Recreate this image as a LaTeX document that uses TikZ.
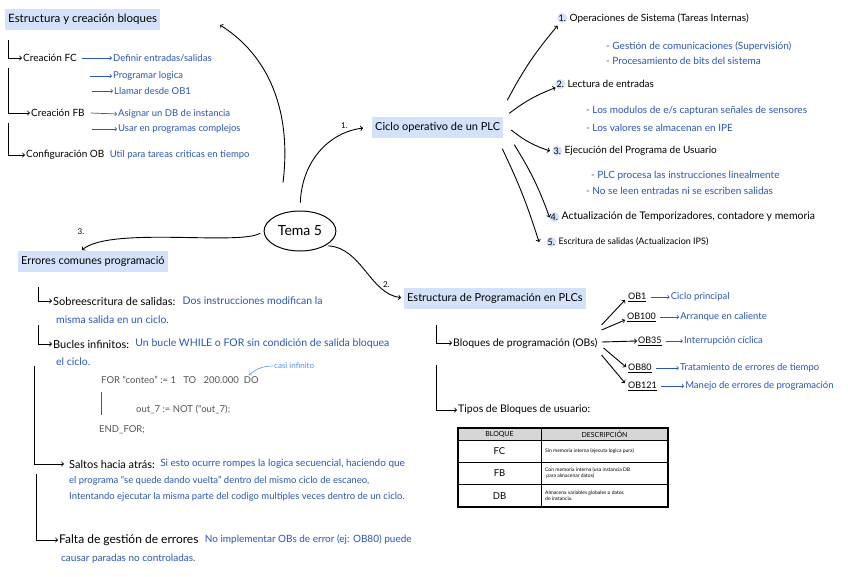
\documentclass[tikz,border=0pt]{standalone}
\usepackage{fontspec}
\setmainfont{Lato}
\usetikzlibrary{positioning,shapes.geometric}

\definecolor{penblue}{HTML}{2B55B5}
\definecolor{lightpen}{HTML}{5A8FE6}
\definecolor{hilite}{HTML}{D3E2FA}
\definecolor{codegray}{HTML}{555555}
\definecolor{headgray}{HTML}{D6D6D6}

\tikzset{
  heading/.style={fill=hilite, anchor=west, inner xsep=3pt, minimum height=21pt, font=\fontsize{11}{13}\selectfont},
  item/.style={anchor=west, inner sep=1pt, font=\fontsize{10}{12}\selectfont},
  bigitem/.style={item, font=\fontsize{11}{13}\selectfont},
  note/.style={anchor=west, inner sep=1pt, text=penblue, font=\fontsize{9.5}{11}\selectfont},
  bignote/.style={note, font=\fontsize{10}{12}\selectfont},
  numdot/.style={circle, fill=hilite, anchor=west, minimum size=10pt, inner sep=0pt, font=\fontsize{9}{11}\selectfont},
  code/.style={anchor=west, inner sep=1pt, text=codegray, font=\fontsize{9.5}{11}\selectfont},
  link/.style={->, line width=0.9pt},
  bluelink/.style={->, penblue, line width=0.7pt},
  branch/.style={->, line width=0.9pt},
  tiny/.style={anchor=west, align=left, inner sep=1pt, font=\fontsize{5}{6}\selectfont},
}

\begin{document}
\begin{tikzpicture}[x=1pt,y=-1pt]
\path[use as bounding box, fill=white] (0,0) rectangle (848,576);

% centre
\node[draw, ellipse, line width=1pt, minimum width=60pt, minimum height=40pt,
  font=\fontsize{14}{16}\selectfont] (tema) at (300,231) {Tema 5};

% ---- top left: estructura y creacion
\node[heading, font=\fontsize{11.5}{13}\selectfont] (estr) at (5,19) {Estructura y creación bloques};

\node[item] (fc) at (22,58) {Creación FC};
\node[note] (fc1) at (112,58) {Definir entradas/salidas};
\node[note] (fc2) at (112,76) {Programar logica};
\node[note] (fc3) at (113,91) {Llamar desde OB1};
\node[item] (fb) at (30,113) {Creación FB};
\node[note] (fb1) at (117,114) {Asignar un DB de instancia};
\node[note] (fb2) at (117,129) {Usar en programas complejos};
\node[item] (ob) at (25,155) {Configuración OB};
\node[note, right=3pt of ob] (ob1) {Util para tareas criticas en tiempo};

\coordinate (t1) at (8,40);
\coordinate (t2) at (8,68);
\coordinate (t3) at (8,123);
\draw[branch] (t1) |- (fc.west);
\draw[branch] (t2) |- (fb.west);
\draw[branch] (t3) |- (ob.west);

\draw[bluelink] ([xshift=4pt]fc.east) -- (fc1.west);
\draw[bluelink] ([xshift=-22pt]fc2.west) -- (fc2.west);
\draw[bluelink] ([xshift=-21pt]fc3.west) -- (fc3.west);
\draw[bluelink] ([xshift=5pt]fb.east) -- (fb1.west);
\draw[bluelink] ([xshift=-25pt]fb2.west) -- (fb2.west);

\coordinate (estrtip) at (220,25);
\draw[link] ([shift={(-17pt,28pt)}]tema.north)
  .. controls (292,110) and (268,55) .. (estrtip);

% ---- ciclo operativo
\node[heading] (ciclo) at (372,127) {Ciclo operativo de un PLC};
\draw[link, shorten <=8pt, shorten >=9pt] (tema.north)
  .. controls (302,160) and (330,132) .. node[pos=0.82, above left=-1pt, font=\fontsize{8}{9}\selectfont] {1.} (ciclo.west);

\node[numdot] (n1) at (557,18) {1.};
\node[item, right=1pt of n1] (op1) {Operaciones de Sistema (Tareas Internas)};
\node[bignote] (op1a) at (605,46) {- Gestión de comunicaciones (Supervisión)};
\node[bignote] (op1b) at (605,61) {- Procesamiento de bits del sistema};

\node[numdot] (n2) at (555,84) {2.};
\node[item, right=1pt of n2] (op2) {Lectura de entradas};
\node[bignote] (op2a) at (585,111) {- Los modulos de e/s capturan señales de sensores};
\node[bignote] (op2b) at (585,128) {- Los valores se almacenan en IPE};

\node[numdot] (n3) at (552,151) {3.};
\node[item, right=1pt of n3] (op3) {Ejecución del Programa de Usuario};
\node[bignote] (op3a) at (590,176) {- PLC procesa las instrucciones linealmente};
\node[bignote] (op3b) at (585,191) {- No se leen entradas ni se escriben salidas};

\node[numdot] (n4) at (549,217) {4.};
\node[item, right=1pt of n4, font=\fontsize{10.5}{12}\selectfont] (op4) {Actualización de Temporizadores, contadore y memoria};

\node[numdot] (n5) at (546,242) {5.};
\node[item, right=1pt of n5, font=\fontsize{9}{11}\selectfont] (op5) {Escritura de salidas (Actualizacion IPS)};

\draw[link] ([xshift=4pt,yshift=16pt]ciclo.north east) to[bend left=6] ([shift={(-1pt,-4pt)}]n1.south west);
\draw[link] ([xshift=6pt,yshift=3pt]ciclo.north east) to[bend left=8] ([xshift=-1pt]n2.south west);
\draw[link] ([xshift=8pt,yshift=-3pt]ciclo.east) to[bend right=10] ([xshift=-2pt]n3.west);
\draw[link] ([xshift=11pt,yshift=-7pt]ciclo.south east) to[bend left=6] ([shift={(-1pt,-4pt)}]n4.north west);
\draw[link] ([xshift=-1pt,yshift=-11pt]ciclo.south east) to[bend left=4] ([xshift=-7pt]n5.west);

% ---- errores comunes
\node[heading] (err) at (18,261) {Errores comunes programació};
\coordinate (errtip) at (82,250);
\draw[link, shorten <=4pt] (tema.west)
  .. controls (240,246) and (110,226) .. (errtip);
\node[font=\fontsize{8}{9}\selectfont] (lbl3) at (81,232) {3.};

\node[bigitem] (sob) at (52,301) {Sobreescritura de salidas:};
\node[note, right=5pt of sob, font=\fontsize{10.5}{12}\selectfont] (sob1) {Dos instrucciones modifican la};
\node[note, font=\fontsize{10.5}{12}\selectfont] (sob2) at (55,320) {misma salida en un ciclo.};

\node[bigitem] (buc) at (52,344) {Bucles infinitos:};
\node[note, right=4pt of buc, font=\fontsize{10.5}{12}\selectfont] (buc1) {Un bucle WHILE o FOR sin condición de salida bloquea};
\node[note, font=\fontsize{10.5}{12}\selectfont] (buc2) at (55,362) {el ciclo.};

\node[code] (for) at (100,380) {FOR “conteo” := 1 \ \ TO \ \ 200.000 \ DO};
\node[code] (out) at (135,410) {out\_7 := NOT (“out\_7);};
\node[code] (endfor) at (98,430) {END\_FOR;};
\draw[codegray, line width=0.6pt] (101,392) -- (101,415);
\node[anchor=west, inner sep=1pt, text=lightpen, font=\fontsize{8}{9}\selectfont] (casi) at (273,366) {casi infinito};
\coordinate (inf) at (249,375);
\draw[->, lightpen, line width=0.6pt] (casi.west) to[bend right=20] (inf);

\node[bigitem] (sal) at (68,464) {Saltos hacia atrás:};
\node[bignote, right=3pt of sal] (sal1) {Si esto ocurre rompes la logica secuencial, haciendo que};
\node[note] (sal2) at (68,481) {el programa “se quede dando vuelta” dentro del mismo ciclo de escaneo,};
\node[note] (sal3) at (68,497) {Intentando ejecutar la misma parte del codigo multiples veces dentro de un ciclo.};

\node[item, font=\fontsize{12}{14}\selectfont] (fal) at (58,540) {Falta de gestión de errores};
\node[bignote, right=4pt of fal] (fal1) {No implementar OBs de error (ej: OB80) puede};
\node[bignote] (fal2) at (60,559) {causar paradas no controladas.};

\coordinate (e1) at (38,287);
\coordinate (e2) at (38,325);
\coordinate (e3) at (34,366);
\coordinate (e4) at (36,474);
\draw[branch] (e1) |- (sob.west);
\draw[branch] (e2) |- (buc.west);
\draw[branch] (e3) |- ([xshift=-4pt]sal.west);
\draw[branch] (e4) |- (fal.west);

% ---- estructura de programacion
\node[heading] (prog) at (404,298) {Estructura de Programación en PLCs};
\draw[link, shorten <=3pt, shorten >=3pt] (tema.-30)
  .. controls (362,248) and (370,294) .. node[pos=0.8, above=0pt, font=\fontsize{8}{9}\selectfont] {2.} (prog.west);

\node[item, font=\fontsize{10.5}{12}\selectfont] (blq) at (452,343) {Bloques de programación (OBs)};
\node[item, font=\fontsize{10.5}{12}\selectfont] (tip) at (457,410) {Tipos de Bloques de usuario:};
\coordinate (p1) at (436,325);
\coordinate (p2) at (436,365);
\draw[branch] (p1) |- (blq.west);
\draw[branch] (p2) |- (tip.west);

\node[item, font=\fontsize{9}{11}\selectfont] (ob1n) at (627,297) {\underline{OB1}};
\node[item, font=\fontsize{9}{11}\selectfont] (ob100) at (626,317) {\underline{OB100}};
\node[item, font=\fontsize{9}{11}\selectfont] (ob35) at (637,341) {\underline{OB35}};
\node[item, font=\fontsize{9}{11}\selectfont] (ob80) at (627,368) {\underline{OB80}};
\node[item, font=\fontsize{9}{11}\selectfont] (ob121) at (627,386) {\underline{OB121}};

\draw[link] ([xshift=3pt,yshift=18pt]blq.east) -- ([shift={(-2pt,-3pt)}]ob1n.west);
\draw[link] ([xshift=3pt,yshift=13pt]blq.east) -- ([shift={(-1pt,-3pt)}]ob100.west);
\draw[link] ([xshift=3pt,yshift=1pt]blq.east) -- (ob35.west);
\draw[link] ([xshift=5pt,yshift=-5pt]blq.east) -- ([shift={(-1pt,1pt)}]ob80.west);
\draw[link] ([xshift=3pt,yshift=-12pt]blq.east) -- ([shift={(-2pt,3pt)}]ob121.west);

\node[note, right=22pt of ob1n] (d1) {Ciclo principal};
\node[note, right=22pt of ob100] (d100) {Arranque en caliente};
\node[note, right=20pt of ob35] (d35) {Interrupción cíclica};
\node[note, right=26pt of ob80] (d80) {Tratamiento de errores de tiempo};
\node[note, right=26pt of ob121] (d121) {Manejo de errores de programación};
\draw[bluelink, shorten <=3pt] (ob1n.east) -- (d1.west);
\draw[bluelink, shorten <=3pt] (ob100.east) -- (d100.west);
\draw[bluelink, shorten <=3pt] (ob35.east) -- (d35.west);
\draw[bluelink, shorten <=3pt] (ob80.east) -- (d80.west);
\draw[bluelink, shorten <=3pt] (ob121.east) -- (d121.west);

% table
\fill[headgray] (458,428) rectangle (668,440);
\draw[line width=1.3pt] (458,428) rectangle (668,507);
\draw[line width=0.9pt] (458,440) -- (668,440) (458,462) -- (668,462) (458,484) -- (668,484) (541,428) -- (541,507);
\node[font=\fontsize{7}{8}\selectfont, inner sep=0pt] (hb) at (499.5,434) {BLOQUE};
\node[font=\fontsize{7}{8}\selectfont, inner sep=0pt] (hd) at (604.5,434) {DESCRIPCIÓN};
\node[font=\fontsize{9.5}{11}\selectfont] (rfc) at (499.5,451) {FC};
\node[font=\fontsize{9.5}{11}\selectfont] (rfb) at (499.5,473) {FB};
\node[font=\fontsize{9.5}{11}\selectfont] (rdb) at (499.5,496) {DB};
\node[tiny] (dfc) at (544,451) {Sin memoria interna (ejecuta logica pura)};
\node[tiny] (dfb) at (544,473) {Con memoria interna (usa instancia DB\\ \ para almacenar datos)};
\node[tiny] (ddb) at (544,496) {Almacena variables globales o datos\\de instancia.};

\end{tikzpicture}
\end{document}
